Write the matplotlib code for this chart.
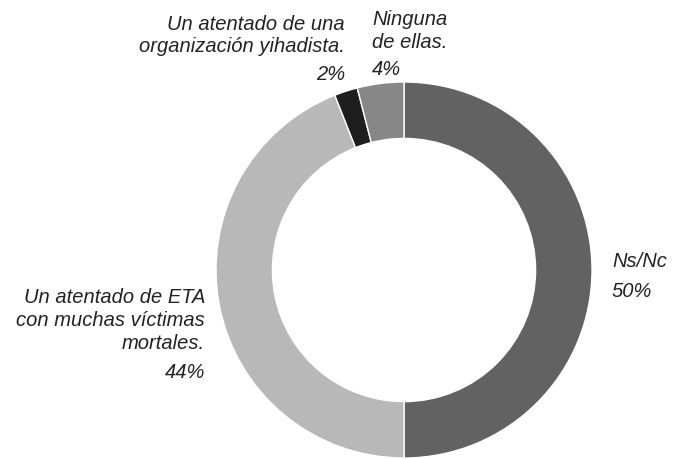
import matplotlib
matplotlib.use("Agg")
import matplotlib.pyplot as plt

# Datos de la encuesta
categorias = ["Ns/Nc",
              "Un atentado de ETA\ncon muchas víctimas\nmortales.",
              "Un atentado de una\norganización yihadista.",
              "Ninguna\nde ellas."]
valores = [50, 44, 2, 4]
colores = ["#626262", "#b8b8b8", "#1e1e1e", "#878787"]

W, H = 675, 459
plt.rcParams["font.family"] = ["Liberation Sans", "DejaVu Sans"]

fig = plt.figure(figsize=(W / 100, H / 100), dpi=100)
ax = fig.add_axes([0, 0, 1, 1])

cx, cy, r = 404, H - 270, 188
ax.pie(valores, colors=colores, startangle=90, counterclock=False,
       center=(cx, cy), radius=r, frame=True,
       wedgeprops=dict(width=r * 0.30, edgecolor="white", linewidth=1.0))
ax.set_xlim(0, W)
ax.set_ylim(0, H)
ax.set_aspect("equal")
ax.axis("off")

estilo = dict(fontsize=14.5, style="italic", color="#222222")

# (x, y de la primera línea base, alineación, y del porcentaje, interlineado)
posiciones = [(612, 267, "left", 297, 22),
              (205, 303, "right", 378, 23),
              (345, 30, "right", 80, 22.5),
              (372, 25, "left", 75, 22.5)]

for cat, val, (x, y, ha, yp, paso) in zip(categorias, valores, posiciones):
    for i, linea in enumerate(cat.split("\n")):
        ax.text(x, H - (y + i * paso), linea, ha=ha, va="baseline", **estilo)
    ax.text(x, H - yp, f"{val}%", ha=ha, va="baseline", **estilo)

fig.savefig("out.png", dpi=100)
